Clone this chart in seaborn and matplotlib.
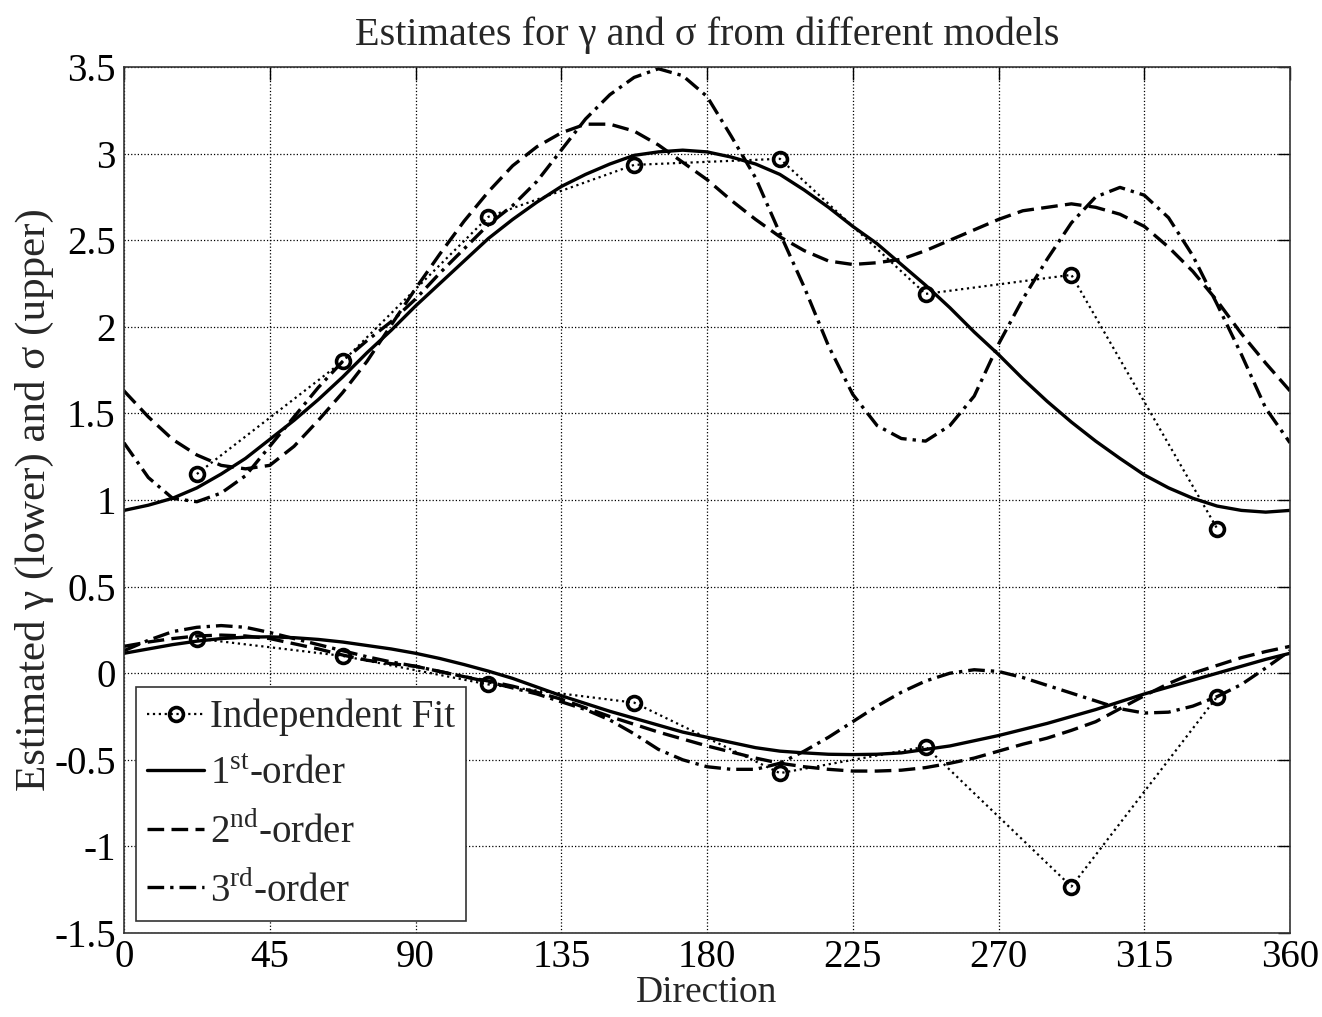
import numpy as np
import pandas as pd
import matplotlib
matplotlib.use('agg')
import seaborn as sns
import matplotlib.pyplot as plt

# direction grid (deg) for the fitted curves
angle = [i * 7.5 for i in range(49)]

# sigma (upper set)
sig_1st = [0.94, 0.97, 1.01, 1.07, 1.15, 1.24, 1.35, 1.46, 1.58, 1.71, 1.85, 1.98, 2.12,
           2.25, 2.38, 2.51, 2.62, 2.72, 2.81, 2.88, 2.94, 2.99, 3.01, 3.02, 3.01,
           2.98, 2.94, 2.88, 2.79, 2.69, 2.58, 2.48, 2.36, 2.24, 2.11, 1.97, 1.84,
           1.70, 1.57, 1.45, 1.34, 1.24, 1.145, 1.07, 1.01, 0.965, 0.94, 0.93, 0.94]
sig_2nd = [1.63, 1.48, 1.35, 1.26, 1.20, 1.18, 1.20, 1.31, 1.46, 1.62, 1.80, 2.01, 2.22,
           2.42, 2.61, 2.78, 2.93, 3.04, 3.12, 3.17, 3.17, 3.13, 3.05, 2.95, 2.85,
           2.73, 2.62, 2.52, 2.44, 2.38, 2.36, 2.37, 2.39, 2.44, 2.50, 2.56, 2.62,
           2.67, 2.69, 2.71, 2.69, 2.65, 2.58, 2.46, 2.32, 2.15, 1.96, 1.79, 1.63]
sig_3rd = [1.33, 1.13, 1.01, 0.99, 1.04, 1.14, 1.31, 1.48, 1.65, 1.80, 1.92, 2.03, 2.16,
           2.31, 2.45, 2.59, 2.70, 2.84, 3.02, 3.20, 3.34, 3.44, 3.49, 3.45, 3.33,
           3.10, 2.86, 2.54, 2.23, 1.89, 1.61, 1.43, 1.355, 1.34, 1.43, 1.60, 1.90,
           2.16, 2.39, 2.60, 2.75, 2.805, 2.76, 2.63, 2.41, 2.13, 1.84, 1.53, 1.33]

# gamma (lower set)
gam_1st = [0.115, 0.14, 0.165, 0.185, 0.20, 0.208, 0.21, 0.205, 0.195, 0.18, 0.16, 0.14, 0.115,
           0.085, 0.05, 0.012, -0.03, -0.08, -0.13, -0.175, -0.22, -0.26, -0.30, -0.34, -0.37,
           -0.40, -0.43, -0.45, -0.46, -0.468, -0.47, -0.468, -0.46, -0.44, -0.42, -0.39, -0.36,
           -0.325, -0.29, -0.25, -0.21, -0.165, -0.12, -0.08, -0.04, 0.0, 0.04, 0.08, 0.115]
gam_2nd = [0.155, 0.18, 0.20, 0.215, 0.22, 0.215, 0.20, 0.17, 0.14, 0.105, 0.075, 0.055, 0.04,
           0.01, -0.02, -0.045, -0.075, -0.11, -0.15, -0.20, -0.25, -0.295, -0.34, -0.38, -0.42,
           -0.455, -0.49, -0.52, -0.54, -0.555, -0.565, -0.565, -0.56, -0.545, -0.52, -0.49, -0.45,
           -0.41, -0.375, -0.33, -0.28, -0.205, -0.13, -0.06, 0.0, 0.045, 0.09, 0.125, 0.155]
gam_3rd = [0.13, 0.19, 0.24, 0.265, 0.275, 0.265, 0.235, 0.20, 0.165, 0.13, 0.095, 0.065, 0.04,
           0.01, -0.02, -0.05, -0.085, -0.12, -0.165, -0.21, -0.27, -0.35, -0.44, -0.50, -0.54,
           -0.555, -0.555, -0.52, -0.45, -0.37, -0.28, -0.19, -0.11, -0.045, 0.0, 0.02, 0.01,
           -0.025, -0.07, -0.115, -0.16, -0.205, -0.23, -0.225, -0.19, -0.135, -0.065, 0.03, 0.13]

# independent fits per direction bin
ind_dir = [22.5, 67.5, 112.5, 157.5, 202.5, 247.5, 292.5, 337.5]
ind_sig = [1.15, 1.80, 2.635, 2.935, 2.97, 2.19, 2.30, 0.835]
ind_gam = [0.20, 0.10, -0.065, -0.17, -0.577, -0.424, -1.232, -0.136]

labels = ["Independent Fit", r"1$^{\mathrm{st}}$-order", r"2$^{\mathrm{nd}}$-order",
          r"3$^{\mathrm{rd}}$-order"]


def main(output):
	sns.set_theme(style="white")
	plt.rcParams['font.family'] = ['Liberation Serif', 'DejaVu Serif']
	plt.rcParams['mathtext.fontset'] = 'custom'
	plt.rcParams['mathtext.rm'] = 'Liberation Serif'

	fig = plt.figure(figsize=(13.22, 10.17), dpi=100)
	ax = fig.add_axes([0.0938, 0.0826, 0.8820, 0.8515])

	fits = pd.DataFrame({"angle": angle,
						 "s1": sig_1st, "s2": sig_2nd, "s3": sig_3rd,
						 "g1": gam_1st, "g2": gam_2nd, "g3": gam_3rd})
	ind = pd.DataFrame({"angle": ind_dir, "sig": ind_sig, "gam": ind_gam})

	lw = 2.4
	styles = {1: dict(linestyle="-"),
			  2: dict(linestyle=(0, (5, 2.2))),
			  3: dict(linestyle=(0, (5, 1.8, 1, 1.8)))}

	for i, col in enumerate(["sig", "gam"]):
		sns.lineplot(data=ind, x="angle", y=col, ax=ax, color="black", lw=1.6,
					 linestyle=":", marker="o", markersize=10, markerfacecolor="none",
					 markeredgecolor="black", markeredgewidth=2.6,
					 label=labels[0] if i == 0 else None)
	for k in (1, 2, 3):
		for i, pre in enumerate(["s", "g"]):
			sns.lineplot(data=fits, x="angle", y=pre + str(k), ax=ax, color="black",
						 lw=lw, label=labels[k] if i == 0 else None, **styles[k])

	ax.set_xlim(0, 360)
	ax.set_ylim(-1.5, 3.5)
	ax.set_xticks(np.arange(0, 361, 45))
	ax.set_yticks(np.arange(-1.5, 3.51, 0.5))
	ax.set_yticklabels(["-1.5", "-1", "-0.5", "0", "0.5", "1", "1.5", "2", "2.5", "3", "3.5"])
	ax.grid(True, linestyle=":", color="black", lw=0.9)
	ax.tick_params(direction="in", top=True, right=True, length=9, width=1,
				   labelsize=28, colors="black")
	ax.tick_params(axis="y", pad=6)
	ax.tick_params(axis="x", pad=4)
	for s in ax.spines.values():
		s.set_color("#333333")
		s.set_linewidth(1.2)

	ax.set_title(u"Estimates for \u03b3 and \u03c3 from different models", fontsize=29, pad=16)
	ax.set_xlabel("Direction", fontsize=27, labelpad=0)
	ax.set_ylabel(u"Estimated \u03b3 (lower) and \u03c3 (upper)", fontsize=31, labelpad=0)

	leg = ax.legend(loc="lower left", fontsize=28, frameon=True, fancybox=False,
					handlelength=1.45, handletextpad=0.15, borderpad=0.3, labelspacing=0.5,
					borderaxespad=0.3)
	leg.get_frame().set_edgecolor("#333333")
	leg.get_frame().set_linewidth(1.2)
	leg.get_frame().set_alpha(1)

	fig.savefig(output, dpi=100)


if __name__ == "__main__":
	main("out.png")
